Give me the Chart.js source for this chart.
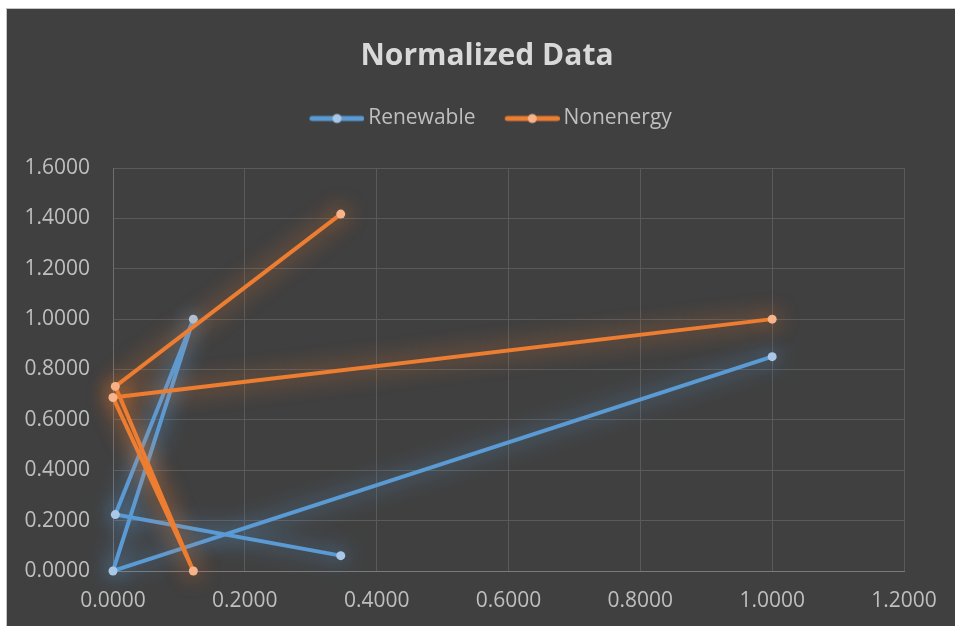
<!DOCTYPE html>
<html><head><meta charset="utf-8">
<script src="https://cdn.jsdelivr.net/npm/chart.js@4"></script>
<style>
html,body{margin:0;padding:0;background:#fff;overflow:hidden;width:955px;height:626px}
#frame{position:absolute;left:6px;top:8px;width:960px;height:617px;border-left:1px solid #c4c4c4;border-top:1px solid #c4c4c4;background:#404040;overflow:hidden}
canvas{display:block}
</style></head><body>
<div id="frame"><canvas id="c" width="960" height="617" style="width:960px;height:617px"></canvas></div>
<script>
// ---- data ----
const xValues   = [0.3455, 0.0035, 0.1219, 0.0, 1.0];
const renewable = [0.061, 0.224, 1.0, 0.0, 0.851];
const nonenergy = [1.417, 0.733, 0.0, 0.689, 1.0];
const seriesNames = ['Renewable', 'Nonenergy'];
const xTickValues = [0, 0.2, 0.4, 0.6, 0.8, 1.0, 1.2];
const yTickValues = [0, 0.2, 0.4, 0.6, 0.8, 1.0, 1.2, 1.4, 1.6];
const titleText = 'Normalized Data';

// ---- styles ----
const lineColors = ['#5b9bd5', '#ed7d31'];
const dotColors  = ['#a9c8e8', '#f7b48a'];
const glowColors = ['rgba(91,155,213,0.95)', 'rgba(237,125,49,0.95)'];
const textColor = '#bfbfbf';
const FONT = "'Open Sans', 'Liberation Sans', sans-serif";

function legendImg(lc, dc) {
  const c = document.createElement('canvas');
  c.width = 69; c.height = 12;
  const g = c.getContext('2d');
  g.strokeStyle = lc; g.lineWidth = 5; g.lineCap = 'round';
  g.beginPath(); g.moveTo(16.5, 6); g.lineTo(66.5, 6); g.stroke();
  g.fillStyle = dc; g.beginPath(); g.arc(41.5, 6, 4.5, 0, Math.PI * 2); g.fill();
  return c;
}
const legendImgs = [legendImg(lineColors[0], dotColors[0]), legendImg(lineColors[1], dotColors[1])];

function pts(ys) { return xValues.map((x, i) => ({x: x, y: ys[i]})); }

const glow = {
  id: 'glow',
  beforeDatasetDraw(chart, args) {
    const ctx = chart.ctx; ctx.save();
    ctx.shadowColor = glowColors[args.index];
    ctx.shadowBlur = 22;
  },
  afterDatasetDraw(chart) { chart.ctx.restore(); }
};
const legendGap = {
  id: 'legendGap',
  afterInit(chart) {
    const lg = chart.legend; const f = lg.fit;
    lg.fit = function () { f.call(this); this.height += 29; };
  }
};

const ds = (i, ys, order) => ({
  label: seriesNames[i], data: pts(ys), showLine: true, tension: 0,
  borderColor: lineColors[i], borderWidth: 4,
  pointRadius: 4.5, pointHoverRadius: 4.5, pointBorderWidth: 0,
  pointBackgroundColor: dotColors[i], clip: false, order: order
});

new Chart(document.getElementById('c'), {
  type: 'scatter',
  data: { datasets: [ds(0, renewable, 2), ds(1, nonenergy, 1)] },
  plugins: [glow, legendGap],
  options: {
    responsive: false, animation: false, events: [],
    layout: { padding: { left: 63, right: 63, top: 0, bottom: 0 } },
    plugins: {
      tooltip: { enabled: false },
      title: { display: true, text: titleText, color: '#d9d9d9',
        font: { family: FONT, size: 30, weight: 'bold' }, padding: { top: 29, bottom: 12 } },
      legend: { display: true, position: 'top',
        labels: { usePointStyle: true, pointStyleWidth: 55.5, padding: 22, color: textColor,
          font: { family: FONT, size: 21 },
          generateLabels: chart => chart.data.datasets.map((d, i) => ({
            text: d.label, fillStyle: lineColors[i], strokeStyle: lineColors[i], lineWidth: 0,
            pointStyle: legendImgs[i], hidden: false, datasetIndex: i, fontColor: textColor
          }))
        } }
    },
    scales: {
      x: { type: 'linear', min: 0, max: 1.2,
        afterBuildTicks: s => { s.ticks = xTickValues.map(v => ({ value: v })); },
        afterFit: s => { s.height = 55; },
        grid: { color: '#5a5a5a', drawTicks: false }, border: { color: '#7a7a7a' },
        ticks: { color: textColor, font: { family: FONT, size: 21 }, padding: 17,
          maxRotation: 0, autoSkip: false, callback: v => Number(v).toFixed(4) } },
      y: { type: 'linear', min: 0, max: 1.6,
        afterBuildTicks: s => { s.ticks = yTickValues.map(v => ({ value: v })); },
        afterFit: s => { s.width = 43; s._computeLabelArea = () => undefined; },
        grid: { color: '#5a5a5a', drawTicks: false }, border: { color: '#6e6e6e' },
        ticks: { color: textColor, font: { family: FONT, size: 21 }, padding: 23,
          autoSkip: false, callback: v => Number(v).toFixed(4) } }
    }
  }
});
</script>
</body></html>
